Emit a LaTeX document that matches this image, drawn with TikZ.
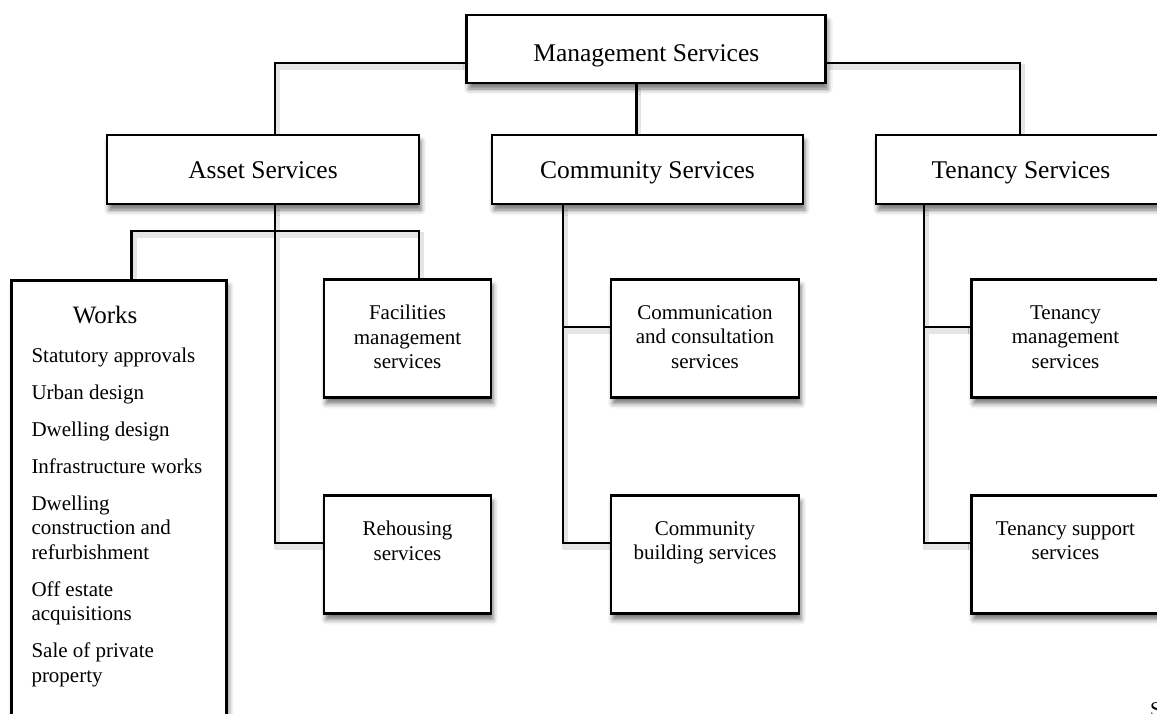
\documentclass[tikz,border=0pt]{standalone}
\usepackage{fontspec}
\setmainfont{Liberation Serif}
\usetikzlibrary{calc,shadows.blur}
\pgfdeclarelayer{bg}
\pgfsetlayers{bg,main}
\newcommand\connpaths[1]{%
  \draw[#1] ($(mgmt.west)+(0,14)$) -| ($(asset.north)+(12,0)$);
  \draw[#1] ($(mgmt.east)+(0,14)$) -| ($(ten.north)+(-1,0)$);
  \draw[#1] ($(mgmt.south)+(-10,0)$) coordinate (m1) -- (m1 |- comm.north);
  \draw[#1] ($(asset.south)+(12,0)$) |- ($(reh.west)+(0,-11.5)$);
  \draw[#1] ($(works.north)+(12.5,0)$) -- ++(0,-47.7) -| ($(fac.north)+(11.5,0)$);
  \draw[#1] ($(comm.south)+(-84.5,0)$) coordinate (c1) |- ($(cb.west)+(0,-11.5)$);
  \draw[#1] ($(cc.west)+(0,-11.5)$) coordinate (c2) -- (c2 -| c1);
  \draw[#1] ($(ten.south)+(-97,0)$) coordinate (t1) |- ($(ts.west)+(0,-11.5)$);
  \draw[#1] ($(tm.west)+(0,-11.5)$) coordinate (t2) -- (t2 -| t1);
}
\begin{document}
\begin{tikzpicture}[x=1pt,y=-1pt,
  box/.style={draw, line width=2.8pt, fill=white, inner sep=0pt,
    blur shadow={shadow xshift=2pt, shadow yshift=-6pt, shadow blur radius=5pt, shadow opacity=55}},
  conn/.style={line width=2.8pt},
  cshadow/.style={draw=black!10, line width=6pt, transform canvas={shift={(2pt,-4pt)}}},
  title/.style={font=\fontsize{25.5}{30}\selectfont, text height=17.5pt, text depth=0pt},
  small/.style={font=\fontsize{21}{24.5}\selectfont, align=center, inner sep=0pt, anchor=north},
  smallbox/.style={box, minimum width=#1, minimum height=118},
]
\useasboundingbox (0,0) rectangle (1157,713);
\clip (0,0) rectangle (1157,713);

% top level
\node[box, title, text height=24pt, minimum width=359, minimum height=68] (mgmt) at (646.3,49) {Management Services};
\node[box, title, minimum width=312, minimum height=69] (asset) at (263,169.5) {Asset Services};
\node[box, title, minimum width=311, minimum height=69] (comm) at (647.5,169.5) {Community Services};
\node[box, title, minimum width=290, minimum height=69] (ten) at (1021,169.5) {Tenancy Services};

% second level
\node[box, minimum width=215, minimum height=470, anchor=north] (works) at (119.2,278.7) {};
\node[font=\fontsize{25}{30}\selectfont, anchor=base west, inner sep=0pt] (worksT)
  at ($(works.north west)+(62.3,44.3)$) {Works};
\node[font=\fontsize{21}{24.5}\selectfont, align=left, anchor=north west, inner sep=0pt] (worksL)
  at ($(works.north west)+(21,69)$)
  {Statutory approvals\\[12.5pt] Urban design\\[12.5pt] Dwelling design\\[12.5pt] Infrastructure works\\[12.5pt]
   Dwelling\\construction and\\refurbishment\\[12.5pt] Off estate\\acquisitions\\[12.5pt] Sale of private\\property};

\node[smallbox=167] (fac) at (407.5,338.5) {};
\node[smallbox=167] (reh) at (407.5,554.5) {};
\node[smallbox=188] (cc) at (705,338.5) {};
\node[smallbox=188] (cb) at (705,554.5) {};
\node[smallbox=188] (tm) at (1065.5,338.5) {};
\node[smallbox=188] (ts) at (1065.5,554.5) {};

\node[small] (facT) at ($(fac.north)+(0,27)$) {Facilities\\management\\services};
\node[small] (rehT) at ($(reh.north)+(0,27)$) {Rehousing\\services};
\node[small] (ccT) at ($(cc.north)+(0,27)$) {Communication\\and consultation\\services};
\node[small] (cbT) at ($(cb.north)+(0,27)$) {Community\\building services};
\node[small] (tmT) at ($(tm.north)+(0,27)$) {Tenancy\\management\\services};
\node[small] (tsT) at ($(ts.north)+(0,27)$) {Tenancy support\\services};

\node[font=\fontsize{21}{24}\selectfont, anchor=base west, inner sep=0pt] (frag) at (1150,716) {S};

% connectors
\begin{pgfonlayer}{bg}
\connpaths{cshadow}
\connpaths{conn}
\end{pgfonlayer}
\end{tikzpicture}
\end{document}
